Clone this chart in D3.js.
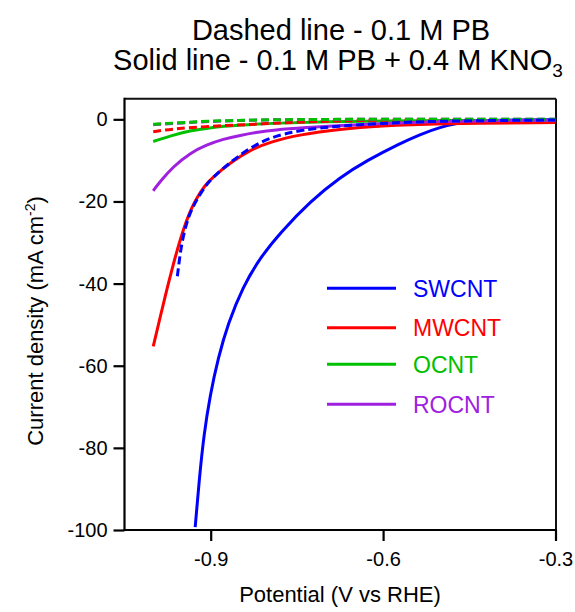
<!DOCTYPE html>
<html>
<head>
<meta charset="utf-8">
<script src="https://cdn.jsdelivr.net/npm/d3@7"></script>
<style>
  html, body { margin: 0; padding: 0; background: #fff; }
  svg { display: block; font-family: "Liberation Sans", Arial, Helvetica, sans-serif; }
</style>
</head>
<body>
<svg id="chart" width="575" height="612"></svg>
<script>
// ---------- data ----------
const seriesNames = ["SWCNT", "MWCNT", "OCNT", "ROCNT"];
const seriesColors = ["#0000ff", "#ff0000", "#00c000", "#a020e0"];

const xTicks = [-0.9, -0.6, -0.3];
const yTicks = [0, -20, -40, -60, -80, -100];

// Solid lines: 0.1 M PB + 0.4 M KNO3
const swcntSolidV = [-0.927, -0.920, -0.912, -0.901, -0.887, -0.870, -0.844, -0.814, -0.779, -0.727, -0.675, -0.628, -0.571, -0.536, -0.501, -0.466, -0.440, -0.397, -0.300];
const swcntSolidJ = [-99.3, -87.8, -76.9, -67.1, -58.1, -49.8, -40.8, -33.7, -27.6, -20.0, -14.1, -10.0, -5.9, -3.7, -1.9, -0.8, -0.35, -0.2, -0.1];

const mwcntSolidV = [-1.0, -0.988, -0.977, -0.965, -0.953, -0.942, -0.933, -0.924, -0.911, -0.898, -0.861, -0.832, -0.797, -0.745, -0.675, -0.605, -0.513, -0.300];
const mwcntSolidJ = [-55.3, -48.2, -41.8, -35.2, -29.2, -24.6, -21.5, -19.1, -16.3, -14.2, -10.1, -7.5, -5.5, -3.7, -2.4, -1.6, -1.0, -0.8];

const ocntSolidV = [-1.0, -0.965, -0.936, -0.907, -0.849, -0.780, -0.700, -0.600, -0.500, -0.300];
const ocntSolidJ = [-5.4, -3.8, -2.8, -2.1, -1.34, -0.9, -0.6, -0.4, -0.3, -0.2];

const rocntSolidV = [-1.0, -0.988, -0.965, -0.936, -0.907, -0.878, -0.849, -0.817, -0.791, -0.733, -0.675, -0.600, -0.500, -0.400, -0.300];
const rocntSolidJ = [-17.4, -15.1, -11.5, -8.2, -6.2, -4.8, -3.9, -3.1, -2.6, -2.0, -1.5, -1.0, -0.5, -0.3, -0.2];

// Dashed lines: 0.1 M PB
const swcntDashV = [-0.958, -0.954, -0.950, -0.942, -0.933, -0.924, -0.911, -0.898, -0.861, -0.832, -0.797, -0.745, -0.675, -0.605, -0.513, -0.300];
const swcntDashJ = [-38.2, -33.6, -29.9, -25.1, -21.9, -19.5, -16.6, -14.3, -9.9, -7.0, -4.4, -2.6, -1.6, -1.0, -0.4, -0.17];

const mwcntDashV = [-1.0, -0.965, -0.907, -0.849, -0.817, -0.733, -0.650, -0.500, -0.300];
const mwcntDashJ = [-3.0, -2.3, -1.75, -1.34, -1.15, -0.6, -0.25, -0.1, -0.05];

const ocntDashV = [-1.0, -0.950, -0.907, -0.850, -0.800, -0.700, -0.500, -0.300];
const ocntDashJ = [-1.2, -0.8, -0.45, -0.25, -0.1, 0.0, 0.05, 0.05];

const rocntDashV = [-1.0, -0.950, -0.900, -0.850, -0.800, -0.700, -0.500, -0.300];
const rocntDashJ = [-1.3, -0.85, -0.5, -0.28, -0.12, -0.02, 0.05, 0.05];

// ---------- layout ----------
const svg = d3.select("#chart");
const mLeft = 124.5, mRight = 555.5, mTop = 98.8, mBottom = 530;

const x = d3.scaleLinear().domain([-1.05, -0.3]).range([mLeft, mRight]);
const y = d3.scaleLinear().domain([-100, 5]).range([mBottom, mTop]);

const zip = (a, b) => a.map((v, i) => [v, b[i]]);
const line = d3.line().x(d => x(d[0])).y(d => y(d[1])).curve(d3.curveBasis);

const solids = [
  zip(swcntSolidV, swcntSolidJ),
  zip(mwcntSolidV, mwcntSolidJ),
  zip(ocntSolidV, ocntSolidJ),
  zip(rocntSolidV, rocntSolidJ)
];
const dashes = [
  zip(swcntDashV, swcntDashJ),
  zip(mwcntDashV, mwcntDashJ),
  zip(ocntDashV, ocntDashJ),
  zip(rocntDashV, rocntDashJ)
];

// frame top & right
svg.append("line").attr("x1", mLeft).attr("x2", mRight + 0.5).attr("y1", mTop).attr("y2", mTop)
  .attr("stroke", "#111").attr("stroke-width", 2);
svg.append("line").attr("x1", mRight + 0.5).attr("x2", mRight + 0.5).attr("y1", mTop).attr("y2", mBottom)
  .attr("stroke", "#111").attr("stroke-width", 2);

// curves
const gCurves = svg.append("g");
solids.forEach((pts, i) => {
  gCurves.append("path").attr("d", line(pts)).attr("fill", "none")
    .attr("stroke", seriesColors[i]).attr("stroke-width", 3).attr("stroke-linecap", "butt");
});
[1, 3, 2, 0].forEach(i => {
  gCurves.append("path").attr("d", line(dashes[i])).attr("fill", "none")
    .attr("stroke", seriesColors[i]).attr("stroke-width", 3).attr("stroke-dasharray", "8,4");
});

// axes
const hyph = s => s.replace("\u2212", "-");
const xAxis = d3.axisBottom(x).tickValues(xTicks).tickFormat(d => hyph(d3.format(".1f")(d)))
  .tickSizeInner(11).tickSizeOuter(0).tickPadding(11);
const yAxis = d3.axisLeft(y).tickValues(yTicks).tickFormat(d => hyph(d3.format("d")(d)))
  .tickSizeInner(11).tickSizeOuter(0).tickPadding(6);

const gx = svg.append("g").attr("transform", `translate(0,${mBottom})`).call(xAxis);
const gy = svg.append("g").attr("transform", `translate(${mLeft},0)`).call(yAxis);
[gx, gy].forEach(g => {
  g.select(".domain").attr("stroke", "#000").attr("stroke-width", 2.2);
  g.selectAll(".tick line").attr("stroke", "#000").attr("stroke-width", 2.2);
  g.selectAll(".tick text").attr("fill", "#000").style("font-size", "20px")
    .style("font-family", '"Liberation Sans", Arial, sans-serif');
});
gx.select(".domain").attr("d", `M${mLeft - 1},0H${mRight + 1.5}`);
gy.select(".domain").attr("d", `M0,${mTop - 1}V${mBottom + 1}`);

// axis titles
svg.append("text").attr("x", 340).attr("y", 602).attr("text-anchor", "middle")
  .style("font-size", "22px").text("Potential (V vs RHE)");

const yl = svg.append("text").attr("transform", "translate(43,321) rotate(-90)")
  .attr("text-anchor", "middle").style("font-size", "22px");
yl.append("tspan").text("Current density (mA cm");
yl.append("tspan").attr("dy", -8).style("font-size", "14px").text("-2");
yl.append("tspan").attr("dy", 8).text(")");

// title
svg.append("text").attr("x", 341).attr("y", 40).attr("text-anchor", "middle")
  .style("font-size", "29px").text("Dashed line - 0.1 M PB");
const t2 = svg.append("text").attr("x", 338).attr("y", 70).attr("text-anchor", "middle")
  .style("font-size", "29px");
t2.append("tspan").text("Solid line - 0.1 M PB + 0.4 M KNO");
t2.append("tspan").attr("dy", 7).style("font-size", "19px").text("3");

// legend
const legendY = [288.3, 327.7, 364.3, 404.3];
seriesNames.forEach((name, i) => {
  svg.append("line").attr("x1", 327).attr("x2", 396).attr("y1", legendY[i]).attr("y2", legendY[i])
    .attr("stroke", seriesColors[i]).attr("stroke-width", 3);
  svg.append("text").attr("x", 413).attr("y", legendY[i] + 8.3)
    .attr("fill", seriesColors[i]).style("font-size", "23px").text(name);
});
</script>
</body>
</html>
